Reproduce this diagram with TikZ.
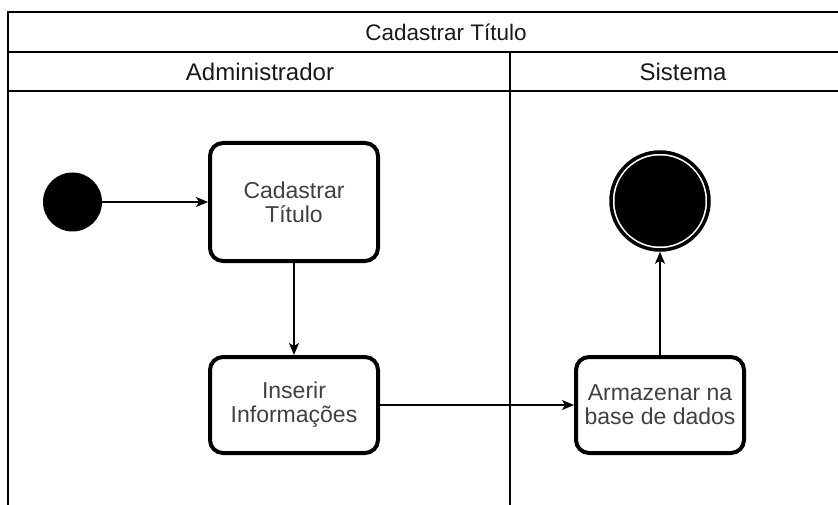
\documentclass[tikz,border=0pt]{standalone}
\usepackage{fontspec}
\setmainfont{Liberation Sans}
\usetikzlibrary{positioning,arrows.meta}

\tikzset{
  acao/.style={draw, line width=4pt, rounded corners=13pt, minimum width=168pt,
    align=center, text=black!75, font=\fontsize{23}{24}\selectfont},
  inicio/.style={circle, fill=black, minimum size=59pt, inner sep=0pt},
  fim/.style={circle, draw, line width=3.5pt, minimum size=98pt, inner sep=0pt,
    path picture={\fill (path picture bounding box.center) circle (45.5pt);}},
  fluxo/.style={-{Stealth[length=12pt,width=10pt,inset=3pt]}, line width=1.4pt},
  raia/.style={line width=1.4pt},
  cabecalho/.style={font=\fontsize{24}{26}\selectfont, text=black!90},
}

\begin{document}
\begin{tikzpicture}[x=1pt,y=-1pt]
  \useasboundingbox (0,0) rectangle (838,505);
  \clip (0,0) rectangle (838,505);
  % swimlane frame
  \draw[raia] (8,505) -- (8,12) -- (900,12);
  \draw[raia] (8,52) -- (900,52);
  \draw[raia] (8,91) -- (900,91);
  \draw[raia] (510,52) -- (510,505);
  \node[cabecalho, font=\fontsize{22.5}{26}\selectfont] (titulo) at (446,32) {Cadastrar Título};
  \node[cabecalho] (admin) at (260,72) {Administrador};
  \node[cabecalho] (sistema) at (683,72) {Sistema};
  % activity nodes
  \node[inicio] (ini) at (72.5,202) {};
  \node[acao, minimum height=118pt] (cadastrar) at (294,202) {Cadastrar\\Título};
  \node[acao, minimum height=96pt] (inserir) at (294,405) {Inserir\\Informações};
  \node[acao, minimum height=96pt] (armazenar) at (660,405) {Armazenar na\\base de dados};
  \node[fim] (fim) at (660,201) {};
  % flow
  \draw[fluxo] (ini) -- (cadastrar);
  \draw[fluxo] (cadastrar) -- (inserir);
  \draw[fluxo] (inserir) -- (armazenar);
  \draw[fluxo] (armazenar) -- (fim);
\end{tikzpicture}
\end{document}
